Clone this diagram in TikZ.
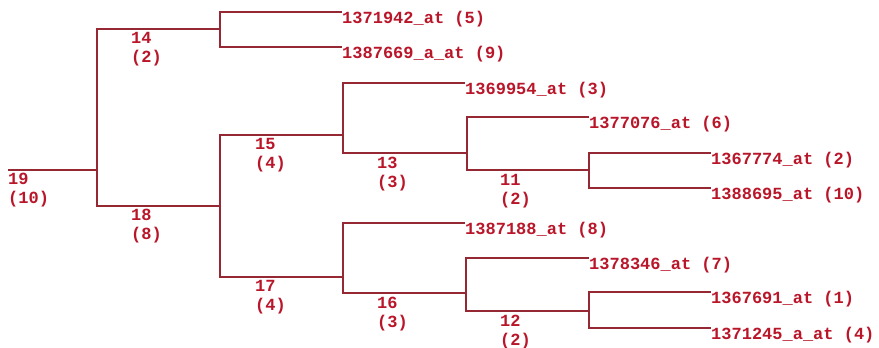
\documentclass[tikz,border=0pt]{standalone}
\usepackage{fontspec}
\setmonofont{Liberation Mono}
\usetikzlibrary{positioning}
\definecolor{linkred}{RGB}{150,40,52}
\definecolor{labred}{RGB}{185,22,42}

\begin{document}
\begin{tikzpicture}[x=1pt, y=-1pt, font=\ttfamily\bfseries\fontsize{17}{19}\selectfont,
  every node/.style={inner sep=0pt, text=labred},
  leaf/.style={anchor=north west, text height=11pt, text depth=3pt},
  clus/.style={anchor=north west, align=left},
  link/.style={draw=linkred, line width=1.6pt}]
  \useasboundingbox (0,0) rectangle (879,348);
  % leaves
  \foreach \n/\x/\y/\t in {5/342/12/1371942\_at (5), 9/342/47/1387669\_a\_at (9),
      3/465/83/1369954\_at (3), 6/589/117/1377076\_at (6), 2/711/153/1367774\_at (2),
      10/711/188/1388695\_at (10), 8/465/223/1387188\_at (8), 7/589/258/1378346\_at (7),
      1/711/292/1367691\_at (1), 4/711/328/1371245\_a\_at (4)}
    \node[leaf] (l\n) at (\x,\y) {\t};
  % cluster labels
  \foreach \n/\x/\y/\s in {19/8/173/10, 14/131/32/2, 18/131/209/8, 15/255/138/4,
      13/377/157/3, 11/500/174/2, 17/255/280/4, 16/377/297/3, 12/500/315/2}
    \node[clus] (n\n) at (\x,\y) {\n\\(\s)};
  % joints
  \coordinate (root) at (8,170);
  \coordinate (k19) at (97,170);
  \coordinate (k14) at (220,29);
  \coordinate (k18) at (220,206);
  \coordinate (k15) at (343,135);
  \coordinate (k13) at (467,153);
  \coordinate (k11) at (589,170);
  \coordinate (k17) at (343,277);
  \coordinate (k16) at (466,293);
  \coordinate (k12) at (589,311);
  \draw[link] (root) -- (k19);
  \draw[link] (k14) -| (k19) |- (k18);
  \draw[link] (l5.north west) -| (k14) |- (l9.north west);
  \draw[link] (k15) -| (k18) |- (k17);
  \draw[link] (l3.north west) -| (k15) |- (k13);
  \draw[link] (l6.north west) -| (k13) |- (k11);
  \draw[link] (l2.north west) -| (k11) |- (l10.north west);
  \draw[link] (l8.north west) -| (k17) |- (k16);
  \draw[link] (l7.north west) -| (k16) |- (k12);
  \draw[link] (l1.north west) -| (k12) |- (l4.north west);
\end{tikzpicture}
\end{document}
